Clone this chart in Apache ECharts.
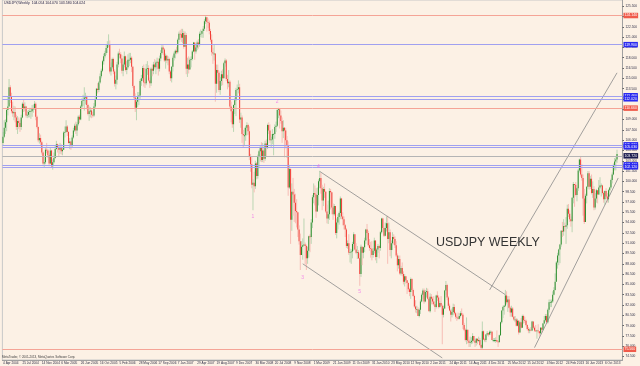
<!DOCTYPE html>
<html><head><meta charset="utf-8">
<script src="https://cdn.jsdelivr.net/npm/echarts@6/dist/echarts.min.js"></script>
<style>html,body{margin:0;padding:0;background:#fcf1e5}#c{width:640px;height:366px}</style>
</head><body><div id="c"></div>
<script>
// Weekly USDJPY bars from the week of 4 Apr 2004; open of each bar = previous close
const open0 = 105.6;
const closes = [
// 2004
106.5,107.8,108.6,110.4,110.9,113.7,112.3,110.2,109.9,110.1,109.3,107.9,108.8,108.5,107.9,109.3,111.3,110.6,110.9,109.6,109.7,110.1,110.2,110.2,110.6,110.6,111.3,109.4,107.9,106.0,106.3,105.7,104.2,102.6,102.8,104.6,104.5,103.8,102.6,
// 2005
104.5,102.2,102.8,103.4,104.7,105.4,104.9,104.6,104.9,104.4,104.6,107.1,107.2,108.0,107.2,105.6,105.8,105.3,106.4,107.4,108.1,107.4,108.3,109.4,109.0,110.9,111.7,111.8,112.2,112.4,111.1,109.8,110.2,110.3,109.7,109.6,110.9,112.0,113.5,113.3,114.4,115.3,116.1,117.5,118.2,118.7,119.4,120.0,120.0,116.0,116.6,117.8,
// 2006
116.0,114.2,114.8,117.0,118.6,118.5,117.9,116.1,117.0,118.2,116.2,116.6,117.7,117.7,118.0,116.7,113.9,112.2,110.7,111.6,112.3,112.5,114.6,115.0,116.5,114.4,114.3,116.4,116.5,114.7,114.3,116.4,116.1,117.0,116.6,117.3,117.4,116.4,117.9,118.7,119.5,119.2,117.6,118.3,117.6,117.8,116.0,115.0,116.7,118.0,118.6,119.0,118.8,
// 2007
120.6,121.5,121.4,120.9,121.6,119.6,121.3,116.4,117.0,116.3,117.7,117.8,118.9,120.2,118.9,119.5,120.2,119.9,121.5,121.5,121.9,122.2,123.3,123.9,123.2,123.1,121.9,120.6,118.8,118.6,118.6,114.2,116.2,115.8,113.3,114.6,115.6,115.0,117.2,117.6,114.9,114.3,114.5,110.9,110.2,108.3,111.1,111.8,113.3,113.4,113.7,109.0,
// 2008
109.3,106.9,106.7,106.7,107.8,108.2,107.3,103.7,102.5,99.5,99.8,99.3,102.6,100.8,103.6,104.4,105.0,103.1,104.5,103.3,105.5,104.9,108.2,107.4,106.0,106.1,106.9,106.9,107.9,108.1,110.4,110.5,109.6,108.8,107.3,107.8,107.4,106.0,105.2,99.1,101.8,94.4,98.5,98.1,96.9,95.7,95.5,93.0,91.3,89.3,90.5,90.7,
// 2009
90.8,90.6,88.8,89.9,92.0,91.9,94.0,97.7,98.3,98.1,95.6,98.0,100.0,100.5,99.0,97.2,98.9,98.5,95.6,94.6,95.2,98.6,98.4,96.2,95.2,96.4,92.5,94.0,94.8,95.4,97.5,94.9,94.5,93.6,93.0,90.6,91.0,89.6,89.7,89.8,90.9,92.3,90.1,89.6,89.7,88.8,86.5,90.5,89.6,90.4,91.4,93.0,
// 2010
92.5,90.7,90.3,90.2,89.3,89.9,91.4,89.0,90.1,90.6,90.3,92.6,94.6,93.2,92.1,93.2,93.9,91.6,92.6,90.0,91.0,91.9,91.6,90.7,89.2,87.8,88.7,86.6,87.4,86.5,85.4,86.2,85.6,85.2,84.3,83.9,85.8,84.2,83.3,81.8,81.4,81.4,80.4,81.3,82.5,83.5,84.1,82.5,83.9,84.0,82.9,81.1,
// 2011
83.2,82.9,82.5,82.1,81.7,83.4,83.1,81.7,82.3,81.9,80.6,81.5,84.1,84.9,83.1,81.9,81.2,80.6,81.0,81.7,80.8,80.3,80.2,80.0,80.4,80.8,80.6,79.1,78.4,76.9,78.4,76.8,76.5,76.6,76.8,77.5,76.8,76.5,77.1,76.8,76.9,76.2,75.8,78.2,77.0,76.9,77.7,77.9,77.7,78.1,78.1,76.9,
// 2012
76.9,76.9,76.9,76.7,76.6,77.6,79.5,81.2,81.7,81.9,83.4,82.4,82.8,81.6,80.9,81.5,80.3,79.9,79.9,79.0,79.7,78.0,79.5,78.7,80.4,79.8,79.7,79.1,78.5,78.3,78.4,78.3,79.6,78.7,78.3,78.2,78.3,78.2,77.9,78.7,78.4,79.3,79.8,80.4,79.5,81.3,82.4,82.4,82.5,83.5,84.2,85.4,88.2,
// 2013
89.2,90.1,90.8,92.8,92.7,93.5,93.4,93.6,96.0,95.3,94.5,94.2,97.6,99.6,99.5,98.0,99.0,101.6,103.2,101.0,100.5,97.5,94.1,97.9,99.2,101.2,99.2,100.4,98.3,98.9,96.2,97.5,98.7,98.1,99.1,99.4,99.4,98.3,97.4,98.6,97.8,97.4,98.7,99.1,100.2,101.0,102.4,102.9,103.2,104.0
];
const highs = [
107.2,108.9,109.0,110.6,112.4,114.9,114.0,112.9,111.6,111.0,110.9,109.7,109.5,109.3,109.0,109.7,111.5,111.9,111.5,111.0,110.3,110.4,110.7,110.7,111.1,111.2,111.7,111.5,109.6,108.0,107.0,106.8,105.9,104.4,103.5,105.0,105.6,104.7,104.1,
104.9,104.6,103.2,104.2,105.2,105.9,105.5,105.2,105.6,105.4,105.0,107.3,108.0,108.9,108.2,107.3,106.3,105.9,106.7,107.8,108.4,108.7,108.6,109.6,109.7,111.1,112.1,112.6,113.7,112.9,112.5,111.3,110.9,110.8,110.5,110.1,111.4,112.3,113.6,114.3,114.6,115.7,116.4,117.7,118.6,119.0,119.9,120.4,121.4,120.5,117.3,118.0,
118.0,116.3,115.4,117.4,118.9,119.3,118.8,118.4,117.3,118.9,118.3,117.5,118.5,118.7,118.7,118.2,116.8,114.0,112.8,112.1,113.0,113.0,114.9,115.5,116.8,117.0,115.0,117.1,117.5,116.9,115.1,116.6,117.0,117.4,117.8,117.6,118.0,117.9,118.3,119.1,119.9,119.8,119.4,118.6,118.4,118.2,118.0,116.2,116.8,118.3,118.9,119.2,119.6,
120.8,121.8,122.0,122.2,122.2,121.9,121.8,121.6,118.0,118.2,118.0,118.2,119.1,120.3,120.2,119.9,120.5,120.7,121.8,122.1,121.9,122.6,123.6,124.1,123.9,123.7,123.4,122.2,121.4,119.4,119.9,118.6,117.0,117.0,116.1,115.2,116.1,116.3,117.4,117.9,117.8,115.5,116.2,114.7,111.6,110.7,111.2,112.2,113.6,114.1,114.7,114.2,
110.0,109.6,107.5,107.8,108.1,108.6,108.4,108.0,104.0,103.6,100.3,101.4,103.0,102.8,103.9,104.6,105.2,105.7,105.6,105.1,105.9,106.1,108.4,108.6,108.3,106.5,107.6,107.0,108.3,108.7,110.5,110.7,110.6,110.3,109.3,108.9,107.9,107.8,106.6,105.8,102.4,101.9,99.7,100.5,98.9,98.2,97.4,95.5,93.6,92.4,91.3,91.7,
94.6,91.1,90.8,90.5,92.1,92.3,94.5,98.0,99.7,99.4,99.0,99.1,100.3,101.5,101.2,99.5,99.2,99.7,98.6,96.6,97.2,99.0,98.9,98.4,96.8,96.7,96.4,94.6,95.2,95.6,97.8,97.6,95.5,94.9,93.8,93.2,91.4,92.3,90.2,90.1,91.2,92.6,92.3,91.0,90.6,90.0,89.5,90.8,90.0,90.5,91.8,93.1,
93.8,92.8,91.6,91.2,91.3,90.3,91.8,91.4,90.3,90.9,90.7,92.8,94.7,94.7,93.4,94.0,94.9,95.0,94.0,93.0,91.4,92.6,92.3,92.0,91.3,89.5,89.2,89.2,87.7,88.2,86.9,86.5,86.2,85.6,85.3,84.5,86.0,85.9,84.4,83.5,82.7,81.9,81.7,81.5,82.8,83.7,84.4,84.4,84.2,84.5,84.4,83.1,
83.7,83.6,83.2,83.3,82.0,83.5,84.0,83.4,82.6,83.3,82.1,81.9,84.2,85.5,85.1,83.3,82.2,81.4,81.5,82.2,82.1,81.0,80.6,80.9,80.8,81.1,81.5,80.8,79.4,78.6,80.2,78.4,77.0,77.4,77.3,77.9,77.5,76.9,77.2,77.1,77.4,77.2,76.3,79.6,78.3,77.2,77.8,78.2,78.0,78.3,78.3,78.2,
77.2,77.2,77.3,78.3,76.8,77.7,79.6,81.2,81.9,82.0,84.2,84.0,83.3,83.3,81.8,81.9,81.7,80.4,80.4,80.1,80.0,79.8,79.7,80.1,80.6,80.6,80.3,79.9,79.2,78.8,78.6,78.8,79.7,79.6,78.9,79.1,78.4,79.2,78.2,78.8,78.8,79.4,80.4,80.7,80.7,81.5,82.8,82.8,82.8,84.0,84.6,86.6,88.4,
89.6,90.2,90.9,92.9,94.1,94.5,94.0,94.8,96.6,96.7,95.8,94.9,97.7,99.9,99.6,99.9,99.2,101.8,103.3,103.7,102.5,101.0,98.9,98.2,99.3,101.5,101.5,100.8,101.0,100.0,99.3,98.3,98.9,98.6,100.2,100.6,99.7,99.5,98.5,98.7,99.0,98.3,98.9,99.2,100.4,101.3,102.6,103.4,103.5,104.6
];
const lows = [
105.2,106.3,106.9,107.3,109.6,110.9,111.4,109.9,109.4,108.9,108.6,107.5,106.9,107.6,107.2,107.5,109.2,110.1,110.2,109.3,109.2,109.3,109.3,109.1,109.4,110.0,110.4,108.9,107.7,105.7,105.5,105.2,103.9,102.4,102.1,102.5,104.1,103.4,102.2,
102.5,102.0,101.7,102.6,103.3,104.6,104.2,103.6,104.0,103.9,103.8,104.6,106.4,107.1,106.6,105.5,104.7,104.6,104.9,106.2,107.2,106.9,106.6,108.1,108.5,108.9,110.6,111.0,110.3,111.2,110.5,109.6,108.8,109.3,109.2,109.3,109.4,110.6,111.9,112.8,113.0,114.2,115.0,115.9,117.0,117.9,118.4,118.7,119.5,115.7,115.4,116.4,
115.6,113.8,113.4,114.1,116.6,117.9,117.2,115.7,115.3,116.6,116.0,115.6,116.4,116.8,117.2,115.9,113.6,111.9,110.1,108.9,110.8,111.1,112.0,113.9,114.6,113.8,113.6,114.0,115.5,114.5,113.6,113.9,115.3,115.6,116.3,115.6,116.3,115.4,116.0,117.5,118.5,118.4,117.4,116.4,117.2,116.9,115.6,114.6,114.4,116.0,117.6,117.9,118.5,
118.6,120.2,120.6,120.3,120.1,119.3,119.6,115.6,115.2,115.7,116.6,116.6,117.6,118.8,117.7,118.6,119.1,119.3,119.6,121.0,120.9,120.9,121.9,122.9,121.8,122.3,121.4,120.3,118.3,117.1,117.6,111.6,112.9,114.2,113.0,112.6,113.9,114.0,115.2,116.7,114.6,113.4,113.7,110.6,108.6,107.8,107.2,109.8,109.5,112.3,112.8,108.5,
107.8,105.6,104.9,105.3,105.9,106.7,106.8,103.1,101.4,99.0,95.8,98.4,98.9,100.3,100.4,101.9,102.9,102.8,102.8,102.7,103.0,103.7,104.7,106.9,105.6,104.9,105.4,103.8,106.2,107.2,107.9,109.2,107.7,108.4,105.6,106.3,103.5,104.8,103.4,97.9,98.9,90.9,92.8,95.0,94.1,93.9,93.3,91.9,90.8,87.1,89.3,88.6,
90.6,87.9,87.1,88.0,88.9,89.7,90.9,93.2,96.8,96.5,94.7,95.6,96.5,99.0,98.2,95.8,96.4,97.6,95.4,93.9,93.8,94.4,95.9,95.2,94.4,95.0,92.2,91.7,93.0,93.7,94.5,94.5,93.6,93.0,91.9,90.3,90.2,89.3,88.2,88.0,88.8,89.9,90.0,89.4,88.7,88.7,84.8,86.1,87.8,88.8,89.7,90.9,
91.7,90.5,89.9,88.9,88.5,88.9,89.5,88.5,88.1,89.6,88.8,89.9,92.4,92.7,91.9,92.0,92.7,88.0,91.0,89.1,88.8,90.0,90.8,90.3,89.0,86.9,87.3,86.4,86.3,86.2,85.0,84.7,85.1,83.6,83.9,83.3,82.9,84.0,83.2,81.6,80.9,80.8,80.4,80.2,80.7,82.4,82.9,82.2,82.4,83.1,82.8,81.1,
80.9,82.1,82.1,81.9,81.0,81.5,82.6,81.5,81.6,81.8,76.3,80.2,81.4,83.5,82.7,81.5,81.1,79.6,80.2,80.5,80.6,80.0,79.7,79.9,79.9,80.2,80.4,78.5,78.2,76.7,76.3,76.4,75.9,75.9,76.3,76.4,76.6,75.9,76.1,76.3,76.6,76.0,75.6,75.6,76.9,76.6,76.6,77.5,77.4,77.6,77.7,76.9,
76.6,76.6,76.5,76.6,75.9,76.6,77.5,79.3,80.1,80.6,81.7,82.1,81.0,81.5,80.3,80.3,80.2,79.7,79.5,78.9,78.9,77.7,78.0,78.6,78.8,79.3,79.4,78.9,78.3,77.9,77.9,78.2,78.2,78.5,78.1,78.1,77.1,77.9,77.4,77.7,78.0,78.3,79.2,79.6,79.3,79.3,80.9,81.7,81.7,82.3,83.4,84.1,85.6,
87.3,87.8,88.1,90.5,91.9,92.1,92.7,90.9,93.1,94.8,94.1,93.4,92.6,96.8,96.3,97.8,97.1,98.6,101.3,100.7,100.1,95.0,93.8,94.1,96.8,98.9,98.8,98.9,98.1,97.6,95.8,95.9,96.9,96.8,98.0,98.9,97.8,98.1,96.9,96.6,97.6,96.9,96.9,98.0,98.9,99.7,100.9,101.6,101.6,102.7
];
const categoryCount = 511;
const xLabels = ['4 Apr 2004','25 Jul 2004','14 Nov 2004','6 Mar 2005','26 Jun 2005','16 Oct 2005','5 Feb 2006','28 May 2006','17 Sep 2006','7 Jan 2007','29 Apr 2007','19 Aug 2007','9 Dec 2007','30 Mar 2008','20 Jul 2008','9 Nov 2008','1 Mar 2009','21 Jun 2009','11 Oct 2009','31 Jan 2010','23 May 2010','12 Sep 2010','2 Jan 2011','24 Apr 2011','14 Aug 2011','4 Dec 2011','25 Mar 2012','15 Jul 2012','4 Nov 2012','24 Feb 2013','16 Jun 2013','6 Oct 2013'];
const yTicks = [74.5,76.0,77.5,79.0,80.5,82.0,83.5,85.0,86.5,88.0,89.5,91.0,92.5,94.0,95.5,97.0,98.5,100.0,101.5,103.0,104.5,106.0,107.5,109.0,110.5,112.0,113.5,115.0,116.5,118.0,119.5,121.0,122.5,124.0,125.5];
const redLevels = [124.14, 110.66, 75.56];
const blueLevels = [119.9, 112.46, 112.02, 105.32, 105.03, 102.41, 102.12];
const priceLevel = 103.72;
const headerText = 'USDJPY,Weekly  104.054 104.070 103.580 104.024';
const trendLines = [
  [[261,101.45],[414,83.5]],
  [[247,88.0],[362,74.3]],
  [[401,84.2],[506,115.8]],
  [[438,75.8],[507,100.5]]
];
const waveText = ['1','2','3','4','5'];
const waveIdx = [206,226,247,260,294];
const wavePrice = [94.9,111.6,86.0,102.2,84.0];

// build OHLC table
const ohlc = closes.map((c,i)=>{
  const o = i===0 ? open0 : closes[i-1];
  return [i, o, c, Math.min(lows[i],o,c), Math.max(highs[i],o,c)];
});
const cats = Array.from({length: categoryCount}, (_, i) => i);

function renderCandle(params, api){
  const i = api.value(0), o = api.value(1), c = api.value(2), l = api.value(3), h = api.value(4);
  const pH = api.coord([i,h]), pL = api.coord([i,l]), pO = api.coord([i,o]), pC = api.coord([i,c]);
  const x = pH[0];
  const up = c >= o;
  const top = Math.min(pO[1], pC[1]);
  const bh = Math.max(Math.abs(pO[1]-pC[1]), 0.8);
  return {type:'group', children:[
    {type:'line', shape:{x1:x,y1:pH[1],x2:x,y2:pL[1]}, style:{stroke: up ? '#b3d3ae' : '#f6b8b0', lineWidth:0.9}},
    {type:'rect', shape:{x:x-0.5,y:top,width:1.0,height:bh}, style:{fill: up ? '#2e8e2e' : '#f23e36'}}
  ]};
}

const chart = echarts.init(document.getElementById('c'), null, {renderer:'canvas'});
const markData = [];
redLevels.forEach(v => markData.push({yAxis:v, lineStyle:{color:'#f5a496', width:1, type:'solid'},
  label:{backgroundColor:'#f05a4a', color:'#fff'}}));
blueLevels.forEach(v => markData.push({yAxis:v, lineStyle:{color:'#a0a0f0', width:1, type:'solid'},
  label:{backgroundColor:'#2a2af0', color:'#fff'}}));
markData.push({yAxis:priceLevel, lineStyle:{color:'#b4b4b4', width:1, type:'solid'},
  label:{backgroundColor:'#1c1c50', color:'#fff'}});

const series = [{
  type:'custom', renderItem: renderCandle, data: ohlc, encode:{x:0, y:[1,2,3,4]}, clip:true, z:3,
  markLine:{silent:true, symbol:['none','none'], animation:false, data: markData,
    label:{show:true, position:'end', distance:1, fontSize:3.5, padding:[1,1,0.5,1], fontFamily:'Liberation Sans',
      formatter: p => p.value.toFixed(3)}}
}];
trendLines.forEach(seg => series.push({type:'line', data: seg, symbol:'none', silent:true, z:4,
  lineStyle:{color:'#8a8a8a', width:0.8}}));
series.push({type:'scatter', symbolSize:0, silent:true, z:5,
  data: waveText.map((t,k)=>({value:[waveIdx[k], wavePrice[k]], name:t})),
  label:{show:true, formatter: p => p.name, color:'#f070e8', fontSize:5, position:'inside', fontFamily:'Liberation Sans'}});

chart.setOption({
  backgroundColor:'#fcf1e5',
  animation:false,
  grid:{left:0, right:14, top:0, bottom:6, show:true, borderColor:'#c8c8c8', borderWidth:1, backgroundColor:'transparent'},
  xAxis:{type:'category', data:cats, boundaryGap:true,
    axisLine:{show:true, lineStyle:{color:'#a0a0a0'}},
    axisTick:{show:false},
    axisLabel:{interval:15, fontSize:3.2, color:'#303048', margin:1.5, align:'left', fontFamily:'Liberation Sans',
      formatter:(v, idx) => xLabels[idx/16] || ''},
    splitLine:{show:false}},
  yAxis:{type:'value', position:'right', min:74.0, max:126.4, scale:true,
    axisLine:{show:true, lineStyle:{color:'#a0a0a0'}},
    axisTick:{show:true, length:1.5, customValues:yTicks, lineStyle:{color:'#606060'}},
    axisLabel:{customValues:yTicks, fontSize:3.2, color:'#303048', margin:3, fontFamily:'Liberation Sans',
      formatter: v => v.toFixed(3)},
    splitLine:{show:false}},
  graphic:[
    {type:'text', left:4, top:1, style:{text:headerText, fontSize:3.5, fill:'#1a1a40', fontFamily:'Liberation Sans'}},
    {type:'text', left:2, top:356, style:{text:'MetaTrader, \u00a9 2001-2013, MetaQuotes Software Corp.', fontSize:3, fill:'#404040', fontFamily:'Liberation Sans'}},
    {type:'text', left:436, top:236, z:10, style:{text:'USDJPY WEEKLY', fontSize:12.5, fill:'#333333', fontFamily:'Liberation Sans'}}
  ],
  series
});
</script></body></html>
